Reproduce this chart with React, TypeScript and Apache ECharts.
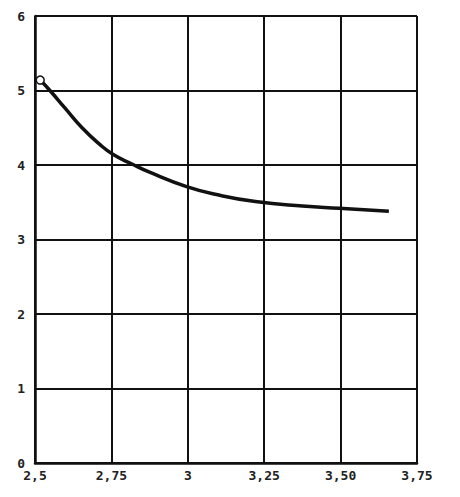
import React, { useEffect, useRef } from "react";
import * as echarts from "echarts";

const xTickLabels: Record<string, string> = {
  "2.5": "2,5",
  "2.75": "2,75",
  "3": "3",
  "3.25": "3,25",
  "3.5": "3,50",
  "3.75": "3,75",
};
const yTickLabels = ["0", "1", "2", "3", "4", "5", "6"];

const curveX = [2.517, 2.551, 2.597, 2.654, 2.711, 2.756, 2.819, 2.871, 2.996, 3.108, 3.221, 3.375, 3.495, 3.658];
const curveY = [5.14, 4.99, 4.77, 4.5, 4.28, 4.14, 4.01, 3.91, 3.71, 3.59, 3.51, 3.45, 3.42, 3.38];

export default function App() {
  const ref = useRef<HTMLDivElement>(null);
  useEffect(() => {
    if (!ref.current) return;
    const chart = echarts.init(ref.current, undefined, { renderer: "svg" });
    const data = curveX.map((x, i) => [x, curveY[i]]);
    chart.setOption({
      animation: false,
      backgroundColor: "#ffffff",
      grid: { left: 35, right: 43, top: 16, bottom: 34 },
      xAxis: {
        type: "value",
        min: 2.5,
        max: 3.75,
        interval: 0.25,
        axisLine: { show: true, lineStyle: { color: "#111", width: 2.5 } },
        axisTick: { show: false },
        splitLine: { show: true, lineStyle: { color: "#111", width: 2 } },
        axisLabel: {
          color: "#222",
          fontFamily: "DejaVu Sans Mono",
          fontWeight: "bold",
          fontSize: 13,
          margin: 6,
          formatter: (v: number) => xTickLabels[String(v)] ?? String(v),
        },
      },
      yAxis: {
        type: "value",
        min: 0,
        max: 6,
        interval: 1,
        axisLine: { show: true, lineStyle: { color: "#111", width: 2.5 } },
        axisTick: { show: false },
        splitLine: { show: true, lineStyle: { color: "#111", width: 2 } },
        axisLabel: {
          color: "#222",
          fontFamily: "DejaVu Sans Mono",
          fontWeight: "bold",
          fontSize: 13,
          margin: 10,
          formatter: (v: number) => yTickLabels[Math.round(v)] ?? String(v),
        },
      },
      series: [
        {
          type: "line",
          data,
          smooth: 0.5,
          lineStyle: { color: "#111", width: 3.5 },
          symbol: (_v: any, p: any) => (p.dataIndex === 0 ? "circle" : "none"),
          symbolSize: 8,
          itemStyle: { color: "#fff", borderColor: "#111", borderWidth: 1.5 },
        },
      ],
    });
    return () => chart.dispose();
  }, []);
  return (
    <div
      ref={ref}
      style={{ position: "fixed", left: 0, top: 0, width: 460, height: 497 }}
    />
  );
}
